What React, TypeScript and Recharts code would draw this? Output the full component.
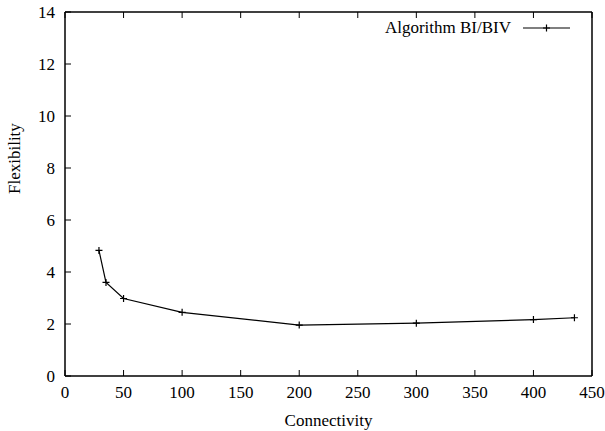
import { Label, Legend, Line, LineChart, XAxis, YAxis } from "recharts";

const connectivity = [29, 35, 50, 100, 200, 300, 400, 435];
const flexibility = [4.83, 3.6, 2.98, 2.45, 1.96, 2.03, 2.17, 2.24];
const xTicks = [0, 50, 100, 150, 200, 250, 300, 350, 400, 450];
const yTicks = [0, 2, 4, 6, 8, 10, 12, 14];

const FONT = '"Liberation Serif", serif';
const tickStyle = { fontSize: 17, fill: "#000", fontFamily: FONT };
const border = { stroke: "#000", strokeWidth: 1.5 };
const inTick = { stroke: "#000", strokeWidth: 1 };
const blank = () => "";

const rows = connectivity.map((c, i) => ({ c, f: flexibility[i] }));

// gnuplot-style "+" point marker
function PlusDot(props: { cx?: number; cy?: number }) {
  const { cx, cy } = props;
  if (cx == null || cy == null) return null;
  return (
    <path
      d={`M${cx - 3.5},${cy}H${cx + 3.5}M${cx},${cy - 3.5}V${cy + 3.5}`}
      stroke="#000"
      strokeWidth={1.2}
      fill="none"
    />
  );
}

function KeyBox() {
  return (
    <div style={{ display: "flex", alignItems: "center", fontFamily: FONT, fontSize: 17, color: "#000" }}>
      <span>Algorithm BI/BIV</span>
      <svg width={52} height={12} style={{ marginLeft: 10 }}>
        <line x1={2} y1={6} x2={49} y2={6} stroke="#000" strokeWidth={1.2} />
        <path d="M22,6H29M25.5,2.5V9.5" stroke="#000" strokeWidth={1.2} />
      </svg>
    </div>
  );
}

export default function App() {
  return (
    <div style={{ position: "absolute", left: 0, top: 0, background: "#fff", fontFamily: FONT }}>
      <style>{`.recharts-wrapper text { font-family: "Liberation Serif", serif; }`}</style>
      <LineChart
        width={605}
        height={431}
        data={rows}
        margin={{ top: 11, right: 12, left: 0, bottom: 0 }}
      >
        <XAxis
          dataKey="c"
          type="number"
          domain={[0, 450]}
          ticks={xTicks}
          height={55}
          tick={tickStyle}
          tickLine={inTick}
          tickSize={-6}
          tickMargin={16}
          axisLine={border}
        >
          <Label value="Connectivity" position="insideBottom" offset={5} style={tickStyle} />
        </XAxis>
        <XAxis
          xAxisId="top"
          dataKey="c"
          type="number"
          orientation="top"
          height={1}
          domain={[0, 450]}
          ticks={xTicks}
          tickFormatter={blank}
          tickLine={inTick}
          tickSize={-6}
          axisLine={border}
        />
        <YAxis
          type="number"
          domain={[0, 14]}
          ticks={yTicks}
          width={65}
          tick={tickStyle}
          tickLine={inTick}
          tickSize={-6}
          tickMargin={16}
          axisLine={border}
        >
          <Label value="Flexibility" angle={-90} position="insideLeft" offset={14} style={tickStyle} />
        </YAxis>
        <YAxis
          yAxisId="right"
          type="number"
          orientation="right"
          width={1}
          domain={[0, 14]}
          ticks={yTicks}
          tickFormatter={blank}
          tickLine={inTick}
          tickSize={-6}
          axisLine={border}
        />
        <Legend
          layout="vertical"
          align="center"
          verticalAlign="middle"
          content={() => <KeyBox />}
          wrapperStyle={{ position: "absolute", top: 18, right: 32, left: "auto", width: "auto", height: "auto" }}
        />
        <Line
          dataKey="f"
          type="linear"
          stroke="#000"
          strokeWidth={1.2}
          dot={<PlusDot />}
          activeDot={false}
          isAnimationActive={false}
          legendType="none"
        />
      </LineChart>
    </div>
  );
}
